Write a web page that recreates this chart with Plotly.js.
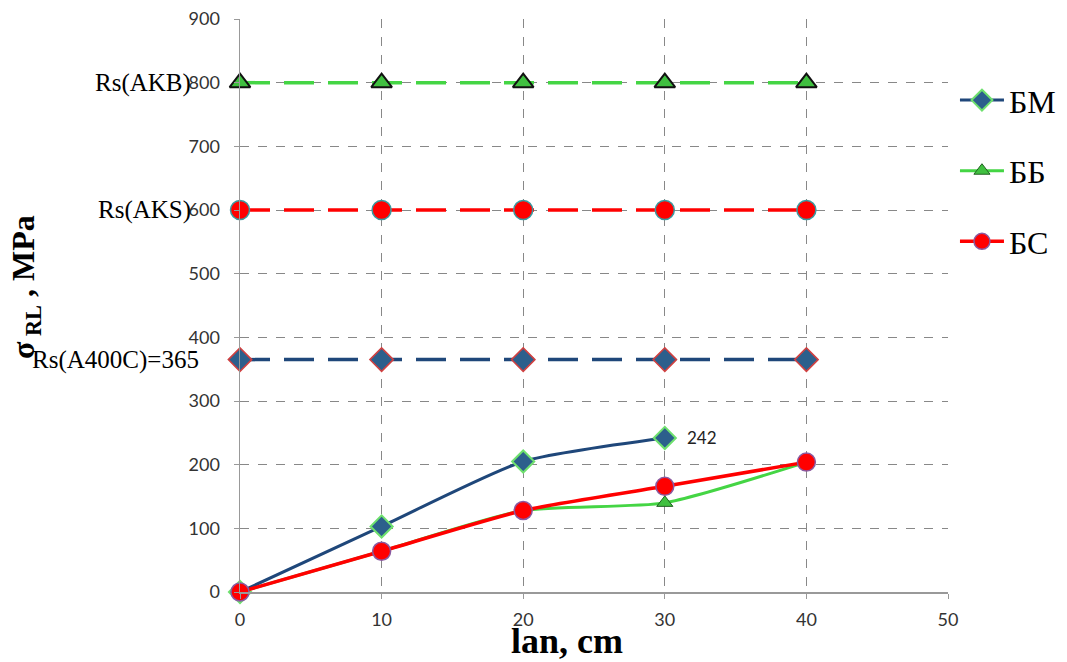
<!DOCTYPE html>
<html><head><meta charset="utf-8">
<script src="https://cdn.plot.ly/plotly-3.0.1.min.js"></script>
<style>body{margin:0;background:#fff}#c{width:1067px;height:662px}</style>
</head><body><div id="c"></div>
<script>
const lengths = [0, 10, 20, 30, 40];
const bmX = [0, 10, 20, 30];
const bmY = [0, 103, 205, 242];
const bbY = [0, 64, 128, 140, 204];
const bsY = [0, 64, 128, 166, 204];
const rsAKB = [800, 800, 800, 800, 800];
const rsAKS = [600, 600, 600, 600, 600];
const rsA400C = [365, 365, 365, 365, 365];
const seriesNames = ['БМ', 'ББ', 'БС'];
const refLabels = ['Rs(AKB)', 'Rs(AKS)', 'Rs(A400C)=365'];
const refValues = [800, 600, 365];
const lastLabel = '242';

const blue = '#1f477a', green = '#44d544', red = '#ff0000';
const traces = [
  {x: lengths, y: rsAKB, mode: 'lines+markers', showlegend: false, cliponaxis: false,
   line: {color: green, width: 3.5, dash: '30px,14px'},
   marker: {symbol: 'triangle-up', size: 18, color: '#40c040', line: {color: '#111', width: 2}}},
  {x: lengths, y: rsAKS, mode: 'lines+markers', showlegend: false, cliponaxis: false,
   line: {color: red, width: 3.5, dash: '30px,14px'},
   marker: {symbol: 'circle', size: 19, color: red, line: {color: '#3a9aa0', width: 1.5}}},
  {x: lengths, y: rsA400C, mode: 'lines+markers', showlegend: false, cliponaxis: false,
   line: {color: blue, width: 3.5, dash: '30px,14px'},
   marker: {symbol: 'diamond', size: 18, color: '#2c5f8c', line: {color: '#d04040', width: 1.5}}},
  {x: lengths, y: bbY, name: seriesNames[1], legendgroup: 'b', mode: 'lines+markers', cliponaxis: false,
   line: {color: green, width: 3, shape: 'spline', smoothing: 0.6},
   marker: {symbol: 'triangle-up', size: 14, color: '#40c040', line: {color: '#206020', width: 1}}},
  {x: bmX, y: bmY, name: seriesNames[0], legendgroup: 'a', mode: 'lines+markers', cliponaxis: false,
   line: {color: blue, width: 3, shape: 'spline', smoothing: 0.6},
   marker: {symbol: 'diamond', size: 17, color: '#2c5f8c', line: {color: '#6ee06e', width: 2}}},
  {x: lengths, y: bsY, name: seriesNames[2], legendgroup: 'c', mode: 'lines+markers', cliponaxis: false,
   line: {color: red, width: 3.5, shape: 'spline', smoothing: 0.6},
   marker: {symbol: 'circle', size: 18, color: red, line: {color: '#8a5aa0', width: 1.5}}}
];
traces[4].legendrank = 1; traces[3].legendrank = 2; traces[5].legendrank = 3;

const serif = 'Liberation Serif, Times New Roman, serif';
const ann = refLabels.map((t, i) => ({
  xref: 'paper', yref: 'y', x: i === 2 ? -0.055 : -0.066, y: refValues[i], xanchor: 'right', yanchor: 'middle',
  text: t, showarrow: false, font: {family: serif, size: 25, color: '#000'}
}));
ann.push({xref: 'x', yref: 'y', x: bmX[3], y: bmY[3], xshift: 20, xanchor: 'left', yanchor: 'middle',
  text: lastLabel, showarrow: false, font: {family: 'Lato, sans-serif', size: 17, color: '#222'}});
ann.push({xref: 'paper', yref: 'paper', x: -0.303, y: 0.533, textangle: -90, xanchor: 'center', yanchor: 'middle',
  text: '<b>σ<sub> RL</sub> , MPa</b>', showarrow: false,
  font: {family: serif, size: 32, color: '#000'}});
ann.push({xref: 'paper', yref: 'paper', x: 0.462, y: -0.085, xanchor: 'center', yanchor: 'middle',
  text: '<b>lan, cm</b>', showarrow: false,
  font: {family: serif, size: 36, color: '#000'}});

const layout = {
  width: 1067, height: 662,
  margin: {l: 240, r: 119, t: 19, b: 70},
  paper_bgcolor: '#fff', plot_bgcolor: '#fff',
  showlegend: true,
  legend: {xref: 'container', yref: 'container', x: 0.895, y: 0.89, xanchor: 'left', yanchor: 'top', tracegroupgap: 26,
    font: {family: serif, size: 32, color: '#000'}, itemwidth: 44},
  xaxis: {range: [0, 50], tickvals: [0, 10, 20, 30, 40, 50], showgrid: true,
    gridcolor: '#888', griddash: 'dash', gridwidth: 1, zeroline: false,
    showline: true, linecolor: '#999', linewidth: 1.5, ticks: 'outside', ticklen: 5, tickcolor: '#999',
    ticklabelstandoff: 6,
    tickfont: {family: 'Liberation Sans Narrow, Lato, sans-serif', size: 18, color: '#333'}, fixedrange: true},
  yaxis: {range: [0, 900], tickvals: [0, 100, 200, 300, 400, 500, 600, 700, 800, 900], showgrid: true,
    gridcolor: '#888', griddash: 'dash', gridwidth: 1, zeroline: false,
    showline: true, linecolor: '#999', linewidth: 1.5, ticks: 'outside', ticklen: 5, tickcolor: '#999',
    ticklabelstandoff: 10,
    tickfont: {family: 'Lato, sans-serif', size: 18, color: '#333'}, fixedrange: true},
  annotations: ann
};
Plotly.newPlot('c', traces, layout, {staticPlot: true});
</script></body></html>
